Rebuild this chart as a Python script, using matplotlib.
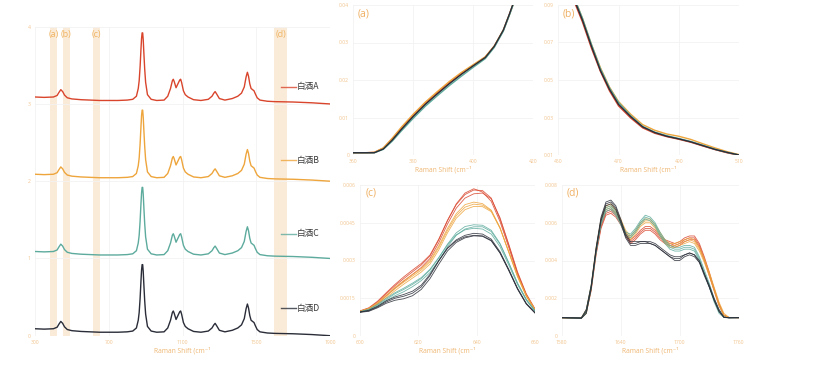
import matplotlib
matplotlib.use("Agg")
import matplotlib.pyplot as plt

plt.rcParams['font.family'] = ['Open Sans', 'Noto Sans CJK SC', 'DejaVu Sans']

# ---------------- data ----------------
sample_names = ['白酒A', '白酒B', '白酒C', '白酒D']
colors = ['#d9452c', '#eea53c', '#5dab9d', '#2a2d38']
offsets = [3, 2, 1, 0]
legend_y = [3.22, 2.27, 1.32, 0.355]

x_full = [300, 350, 400, 420, 430, 440, 450, 460, 475, 500, 550, 600, 650, 700, 750, 800,
          830, 850, 860, 865, 870, 875, 878, 881, 884, 887, 890, 895, 900, 910, 930, 960,
          1000, 1020, 1035, 1045, 1050, 1055, 1065, 1075, 1085, 1090, 1095, 1105, 1115, 1130,
          1160, 1200, 1240, 1260, 1270, 1277, 1285, 1300, 1330, 1370, 1400, 1420, 1435, 1445,
          1452, 1458, 1465, 1472, 1480, 1488, 1495, 1505, 1520, 1560, 1600, 1700, 1800, 1900]
spectrum_shape = [0.09, 0.085, 0.09, 0.11, 0.15, 0.185, 0.16, 0.115, 0.08, 0.065, 0.055, 0.05,
                  0.045, 0.045, 0.045, 0.05, 0.06, 0.10, 0.20, 0.30, 0.48, 0.72, 0.85, 0.92,
                  0.92, 0.83, 0.68, 0.45, 0.28, 0.12, 0.06, 0.045, 0.05, 0.10, 0.20, 0.30,
                  0.32, 0.29, 0.21, 0.26, 0.31, 0.32, 0.28, 0.17, 0.12, 0.09, 0.055, 0.045,
                  0.06, 0.10, 0.14, 0.16, 0.13, 0.07, 0.05, 0.07, 0.10, 0.14, 0.22, 0.35,
                  0.41, 0.36, 0.26, 0.20, 0.185, 0.17, 0.13, 0.08, 0.05, 0.035, 0.03, 0.025, 0.015, 0.0]

band_ranges = [(382, 418), (452, 488), (612, 650), (1598, 1669)]
band_labels = ['(a)', '(b)', '(c)', '(d)']
left_xticks = [300, 700, 1100, 1500, 1900]
left_yticks = [0, 1, 2, 3, 4]

# inset (a)
x_a = [360, 364, 367, 370, 373, 376, 380, 384, 388, 392, 396, 400, 404, 407, 410, 412, 414]
a_A = [0.0006, 0.0006, 0.0007, 0.0018, 0.0043, 0.0071, 0.0106, 0.0138, 0.0166, 0.0193, 0.0217, 0.0239, 0.0261, 0.0290, 0.0332, 0.0374, 0.0418]
a_B = [0.0006, 0.0006, 0.0007, 0.0019, 0.0045, 0.0074, 0.0109, 0.0141, 0.0169, 0.0196, 0.0220, 0.0241, 0.0262, 0.0291, 0.0333, 0.0374, 0.0418]
a_C = [0.0006, 0.0006, 0.0006, 0.0015, 0.0037, 0.0064, 0.0098, 0.0130, 0.0158, 0.0185, 0.0210, 0.0234, 0.0257, 0.0287, 0.0330, 0.0372, 0.0416]
a_D = [0.0006, 0.0006, 0.0006, 0.0016, 0.0040, 0.0068, 0.0103, 0.0135, 0.0163, 0.0190, 0.0215, 0.0238, 0.0260, 0.0290, 0.0333, 0.0375, 0.0420]
a_xticks = [360, 380, 400, 420]
a_yticks = [0, 0.01, 0.02, 0.03, 0.04]
a_ylabels = ['0', '0.01', '0.02', '0.03', '0.04']

# inset (b)
x_b = [455, 458, 461, 464, 467, 470, 474, 478, 482, 486, 490, 494, 498, 502, 506, 510]
b_A = [0.093, 0.081, 0.067, 0.0545, 0.0442, 0.0362, 0.0298, 0.0245, 0.0216, 0.0198, 0.0184, 0.0168, 0.0148, 0.0129, 0.0112, 0.0099]
b_B = [0.095, 0.083, 0.069, 0.0565, 0.0462, 0.0385, 0.0318, 0.0262, 0.0232, 0.0212, 0.0200, 0.0183, 0.0160, 0.0138, 0.0118, 0.0102]
b_C = [0.095, 0.083, 0.069, 0.056, 0.0458, 0.038, 0.031, 0.0253, 0.0222, 0.0203, 0.0188, 0.0172, 0.0152, 0.0131, 0.0114, 0.0100]
b_D = [0.094, 0.082, 0.068, 0.055, 0.045, 0.037, 0.0305, 0.025, 0.022, 0.020, 0.0186, 0.017, 0.015, 0.013, 0.0114, 0.0100]
b_xticks = [450, 470, 490, 510]
b_yticks = [0.01, 0.03, 0.05, 0.07, 0.09]
b_ylabels = ['0.01', '0.03', '0.05', '0.07', '0.09']

# inset (c): three replicate spectra per sample
x_c = [600, 603, 606, 609, 612, 615, 618, 621, 624, 627, 630, 633, 636, 639, 642, 645, 648, 651, 654, 657, 660]
c_A1 = [0.00098, 0.00110, 0.00135, 0.00168, 0.00200, 0.00228, 0.00255, 0.00282, 0.00318, 0.00382, 0.00458, 0.00522, 0.00562, 0.00580, 0.00578, 0.00548, 0.00465, 0.00360, 0.00250, 0.00165, 0.00105]
c_A2 = [0.00095, 0.00105, 0.00128, 0.00160, 0.00190, 0.00218, 0.00245, 0.00272, 0.00308, 0.00370, 0.00445, 0.00508, 0.00548, 0.00565, 0.00568, 0.00545, 0.00470, 0.00365, 0.00255, 0.00168, 0.00108]
c_A3 = [0.00100, 0.00112, 0.00138, 0.00172, 0.00205, 0.00235, 0.00262, 0.00288, 0.00322, 0.00385, 0.00460, 0.00525, 0.00568, 0.00585, 0.00572, 0.00535, 0.00455, 0.00352, 0.00245, 0.00160, 0.00102]
c_B1 = [0.00098, 0.00108, 0.00130, 0.00158, 0.00188, 0.00214, 0.00238, 0.00262, 0.00295, 0.00352, 0.00420, 0.00478, 0.00512, 0.00524, 0.00520, 0.00498, 0.00430, 0.00335, 0.00238, 0.00160, 0.00105]
c_B2 = [0.00096, 0.00105, 0.00126, 0.00152, 0.00180, 0.00206, 0.00230, 0.00254, 0.00286, 0.00342, 0.00410, 0.00468, 0.00502, 0.00515, 0.00514, 0.00494, 0.00428, 0.00335, 0.00240, 0.00162, 0.00106]
c_B3 = [0.00099, 0.00110, 0.00132, 0.00162, 0.00194, 0.00220, 0.00244, 0.00268, 0.00300, 0.00358, 0.00428, 0.00486, 0.00522, 0.00532, 0.00526, 0.00500, 0.00430, 0.00332, 0.00235, 0.00158, 0.00103]
c_C1 = [0.00096, 0.00104, 0.00122, 0.00145, 0.00168, 0.00185, 0.00205, 0.00228, 0.00262, 0.00310, 0.00365, 0.00410, 0.00435, 0.00442, 0.00440, 0.00420, 0.00368, 0.00292, 0.00210, 0.00145, 0.00100]
c_C2 = [0.00095, 0.00102, 0.00118, 0.00140, 0.00160, 0.00176, 0.00196, 0.00220, 0.00252, 0.00300, 0.00355, 0.00400, 0.00425, 0.00434, 0.00434, 0.00415, 0.00365, 0.00290, 0.00210, 0.00146, 0.00100]
c_C3 = [0.00097, 0.00106, 0.00125, 0.00150, 0.00172, 0.00190, 0.00210, 0.00232, 0.00265, 0.00312, 0.00362, 0.00402, 0.00422, 0.00428, 0.00425, 0.00405, 0.00355, 0.00282, 0.00205, 0.00142, 0.00098]
c_D1 = [0.00095, 0.00100, 0.00115, 0.00135, 0.00150, 0.00158, 0.00170, 0.00195, 0.00240, 0.00298, 0.00350, 0.00382, 0.00400, 0.00408, 0.00405, 0.00385, 0.00335, 0.00265, 0.00190, 0.00130, 0.00093]
c_D2 = [0.00094, 0.00098, 0.00112, 0.00130, 0.00142, 0.00148, 0.00160, 0.00185, 0.00228, 0.00285, 0.00338, 0.00372, 0.00390, 0.00398, 0.00396, 0.00378, 0.00330, 0.00262, 0.00188, 0.00128, 0.00092]
c_D3 = [0.00096, 0.00102, 0.00118, 0.00140, 0.00155, 0.00165, 0.00178, 0.00202, 0.00245, 0.00300, 0.00348, 0.00378, 0.00394, 0.00400, 0.00398, 0.00380, 0.00330, 0.00260, 0.00186, 0.00127, 0.00091]
c_xticks = [600, 620, 640, 660]
c_yticks = [0, 0.0015, 0.003, 0.0045, 0.006]
c_ylabels = ['0', '0.0015', '0.003', '0.0045', '0.006']

# inset (d): three replicate spectra per sample
x_d = [1580, 1600, 1605, 1610, 1615, 1620, 1625, 1630, 1635, 1640, 1645, 1650, 1655, 1660, 1665, 1670, 1675,
       1680, 1685, 1690, 1695, 1700, 1705, 1710, 1715, 1720, 1725, 1730, 1735, 1740, 1745, 1750, 1760]
d_A1 = [0.00097, 0.00095, 0.0013, 0.0025, 0.0044, 0.0058, 0.0065, 0.0066, 0.0064, 0.0060, 0.0054, 0.0050, 0.0052, 0.0055, 0.0057, 0.0057, 0.0055, 0.0052, 0.0050, 0.0049, 0.0048, 0.0049, 0.0051, 0.0052, 0.0052, 0.0048, 0.0041, 0.0033, 0.0025, 0.0017, 0.0011, 0.00098, 0.00097]
d_A2 = [0.00097, 0.00096, 0.0014, 0.0026, 0.0045, 0.0059, 0.0066, 0.0067, 0.0065, 0.0061, 0.0055, 0.0051, 0.0053, 0.0056, 0.0058, 0.0058, 0.0056, 0.0053, 0.0051, 0.0050, 0.0049, 0.0050, 0.0052, 0.0053, 0.0053, 0.0049, 0.0042, 0.0034, 0.0025, 0.0017, 0.0011, 0.00098, 0.00097]
d_A3 = [0.00096, 0.00094, 0.0012, 0.0024, 0.0043, 0.0057, 0.0064, 0.0065, 0.0063, 0.0059, 0.0053, 0.0049, 0.0051, 0.0054, 0.0056, 0.0056, 0.0054, 0.0051, 0.0049, 0.0048, 0.0047, 0.0048, 0.0050, 0.0051, 0.0051, 0.0047, 0.0040, 0.0032, 0.0024, 0.0016, 0.0011, 0.00097, 0.00097]
d_B1 = [0.00097, 0.00095, 0.0013, 0.0026, 0.0046, 0.0061, 0.0068, 0.0069, 0.0066, 0.0061, 0.0055, 0.0052, 0.0055, 0.0059, 0.0061, 0.0061, 0.0058, 0.0054, 0.0050, 0.0048, 0.0048, 0.0049, 0.0050, 0.0051, 0.0050, 0.0046, 0.0040, 0.0033, 0.0025, 0.0017, 0.0011, 0.00098, 0.00097]
d_B2 = [0.00098, 0.00096, 0.0014, 0.0027, 0.0047, 0.0062, 0.0069, 0.0070, 0.0067, 0.0062, 0.0056, 0.0053, 0.0056, 0.0060, 0.0062, 0.0062, 0.0059, 0.0055, 0.0051, 0.0049, 0.0049, 0.0050, 0.0051, 0.0052, 0.0051, 0.0047, 0.0041, 0.0034, 0.0026, 0.0018, 0.0012, 0.00099, 0.00097]
d_B3 = [0.00096, 0.00094, 0.0012, 0.0025, 0.0045, 0.0060, 0.0067, 0.0068, 0.0065, 0.0060, 0.0054, 0.0051, 0.0054, 0.0058, 0.0060, 0.0060, 0.0057, 0.0053, 0.0049, 0.0047, 0.0047, 0.0048, 0.0049, 0.0050, 0.0049, 0.0045, 0.0039, 0.0032, 0.0024, 0.0016, 0.0011, 0.00097, 0.00097]
d_C1 = [0.00097, 0.00095, 0.0013, 0.0026, 0.0045, 0.0060, 0.0067, 0.0068, 0.0065, 0.0060, 0.0054, 0.0053, 0.0056, 0.0060, 0.0063, 0.0062, 0.0059, 0.0054, 0.0050, 0.0047, 0.0046, 0.0046, 0.0047, 0.0047, 0.0046, 0.0041, 0.0034, 0.0027, 0.0019, 0.0013, 0.0010, 0.00097, 0.00097]
d_C2 = [0.00098, 0.00096, 0.0014, 0.0027, 0.0046, 0.0061, 0.0068, 0.0069, 0.0066, 0.0061, 0.0055, 0.0054, 0.0057, 0.0061, 0.0064, 0.0063, 0.0060, 0.0055, 0.0051, 0.0048, 0.0047, 0.0047, 0.0048, 0.0048, 0.0047, 0.0042, 0.0035, 0.0028, 0.0020, 0.0014, 0.0010, 0.00097, 0.00097]
d_C3 = [0.00096, 0.00094, 0.0012, 0.0025, 0.0044, 0.0059, 0.0066, 0.0067, 0.0064, 0.0059, 0.0053, 0.0052, 0.0055, 0.0059, 0.0062, 0.0061, 0.0058, 0.0053, 0.0049, 0.0046, 0.0045, 0.0045, 0.0046, 0.0046, 0.0045, 0.0040, 0.0033, 0.0026, 0.0018, 0.0012, 0.00098, 0.00097, 0.00097]
d_D1 = [0.00097, 0.00095, 0.0013, 0.0026, 0.0046, 0.0062, 0.0070, 0.0071, 0.0068, 0.0061, 0.0053, 0.0049, 0.0049, 0.0050, 0.0050, 0.0049, 0.0048, 0.0046, 0.0044, 0.0042, 0.0041, 0.0041, 0.0043, 0.0044, 0.0043, 0.0040, 0.0033, 0.0027, 0.0020, 0.0014, 0.0010, 0.00097, 0.00097]
d_D2 = [0.00098, 0.00096, 0.0014, 0.0027, 0.0047, 0.0063, 0.0071, 0.0072, 0.0069, 0.0062, 0.0054, 0.0050, 0.0050, 0.0050, 0.0050, 0.0050, 0.0049, 0.0047, 0.0045, 0.0043, 0.0042, 0.0042, 0.0043, 0.0044, 0.0043, 0.0039, 0.0033, 0.0026, 0.0019, 0.0013, 0.0010, 0.00096, 0.00097]
d_D3 = [0.00096, 0.00094, 0.0012, 0.0025, 0.0045, 0.0061, 0.0069, 0.0070, 0.0067, 0.0060, 0.0052, 0.0048, 0.0048, 0.0049, 0.0049, 0.0049, 0.0048, 0.0046, 0.0044, 0.0042, 0.0040, 0.0040, 0.0042, 0.0043, 0.0042, 0.0039, 0.0032, 0.0026, 0.0019, 0.0013, 0.00098, 0.00096, 0.00097]
d_xticks = [1580, 1640, 1700, 1760]
d_yticks = [0, 0.002, 0.004, 0.006, 0.008]
d_ylabels = ['0', '0.002', '0.004', '0.006', '0.008']

xlabel_text = 'Raman Shift (cm\u207b\u00b9'

# ---------------- style ----------------
TICK_COLOR = '#f2c48d'
TITLE_COLOR = '#efb671'
GRID_COLOR = '#f2f2f2'
BAND_COLOR = '#faebd9'
TICK_FS = 3.6
TITLE_FS = 4.8

W, H = 823, 380
fig = plt.figure(figsize=(W / 100, H / 100), dpi=100)
fig.patch.set_facecolor('white')


def px_axes(x0, x1, y0, y1):
    return fig.add_axes([x0 / W, 1 - y1 / H, (x1 - x0) / W, (y1 - y0) / H])


def style(ax, xticks, yticks, ylabels=None):
    ax.set_xticks(xticks)
    ax.set_yticks(yticks)
    ax.set_xticklabels([str(t) for t in xticks])
    if ylabels is not None:
        ax.set_yticklabels(ylabels)
    for s in ax.spines.values():
        s.set_visible(False)
    ax.tick_params(length=0, labelsize=TICK_FS, labelcolor=TICK_COLOR, pad=3)
    ax.grid(True, color=GRID_COLOR, lw=0.6)
    ax.set_axisbelow(True)
    ax.set_xlabel(xlabel_text, fontsize=TITLE_FS, color=TITLE_COLOR, labelpad=1.5)


# ---- left panel ----
ax = px_axes(35, 330, 26.7, 335.7)
ax.set_xlim(300, 1900)
ax.set_ylim(0, 4)
for (b0, b1), lab in zip(band_ranges, band_labels):
    ax.axvspan(b0, b1, color=BAND_COLOR, lw=0, zorder=0.5)
    ax.text((b0 + b1) / 2, 3.895, lab, ha='center', va='center', fontsize=6.5, color='#f0b462')
for name, col, off, ly in zip(sample_names, colors, offsets, legend_y):
    ax.plot(x_full, [v + off for v in spectrum_shape], color=col, lw=1.0, solid_joinstyle='round')
    ax.plot([1633, 1716], [ly, ly], color=col, lw=1.0, alpha=0.8)
    ax.text(1722, ly, name, fontsize=6.2, color='#3a3a3a', va='center', ha='left',
            family=['Noto Sans CJK SC', 'DejaVu Sans'])
style(ax, left_xticks, left_yticks)
ax.set_yticklabels([str(t) for t in left_yticks])

# ---- inset (a) ----
ax = px_axes(353.3, 533.3, 5, 155)
ax.set_xlim(360, 420)
ax.set_ylim(0, 0.04)
for col, ys in zip(colors, [a_A, a_B, a_C, a_D]):
    ax.plot(x_a, ys, color=col, lw=1.0)
style(ax, a_xticks, a_yticks, a_ylabels)
ax.text(0.025, 0.94, '(a)', transform=ax.transAxes, fontsize=7.5, color='#efb164', va='center')

# ---- inset (b) ----
ax = px_axes(558.3, 739, 5, 155)
ax.set_xlim(450, 510)
ax.set_ylim(0.01, 0.09)
for col, ys in zip(colors, [b_A, b_B, b_C, b_D]):
    ax.plot(x_b, ys, color=col, lw=1.0)
style(ax, b_xticks, b_yticks, b_ylabels)
ax.text(0.025, 0.94, '(b)', transform=ax.transAxes, fontsize=7.5, color='#efb164', va='center')

# ---- inset (c) ----
ax = px_axes(360, 535, 185, 336)
ax.set_xlim(600, 660)
ax.set_ylim(0, 0.006)
c_groups = [[c_A1, c_A2, c_A3], [c_B1, c_B2, c_B3], [c_C1, c_C2, c_C3], [c_D1, c_D2, c_D3]]
for col, grp in zip(colors, c_groups):
    for ys in grp:
        ax.plot(x_c, ys, color=col, lw=0.6, alpha=0.85)
style(ax, c_xticks, c_yticks, c_ylabels)
ax.text(0.03, 0.945, '(c)', transform=ax.transAxes, fontsize=7.5, color='#efb164', va='center')

# ---- inset (d) ----
ax = px_axes(561.7, 738.7, 185, 336)
ax.set_xlim(1580, 1760)
ax.set_ylim(0, 0.008)
d_groups = [[d_A1, d_A2, d_A3], [d_B1, d_B2, d_B3], [d_C1, d_C2, d_C3], [d_D1, d_D2, d_D3]]
for col, grp in zip(colors, d_groups):
    for ys in grp:
        ax.plot(x_d, ys, color=col, lw=0.6, alpha=0.85)
style(ax, d_xticks, d_yticks, d_ylabels)
ax.text(0.03, 0.945, '(d)', transform=ax.transAxes, fontsize=7.5, color='#efb164', va='center')

fig.savefig('out.png', dpi=100, facecolor='white')
